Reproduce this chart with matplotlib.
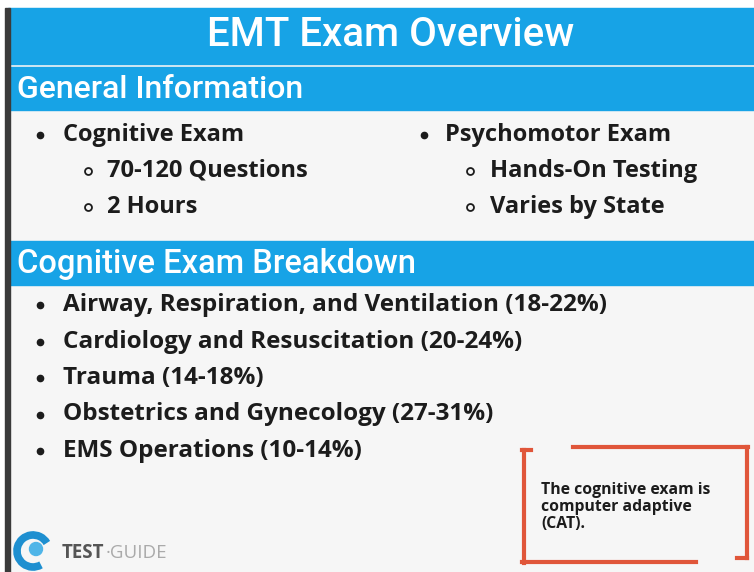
import matplotlib.pyplot as plt
from matplotlib.patches import Rectangle, Circle, Arc

# Content
title = "EMT Exam Overview"
section1 = "General Information"
section2 = "Cognitive Exam Breakdown"
left_head = "Cognitive Exam"
left_items = ["70-120 Questions", "2 Hours"]
right_head = "Psychomotor Exam"
right_items = ["Hands-On Testing", "Varies by State"]
breakdown = ["Airway, Respiration, and Ventilation (18-22%)",
             "Cardiology and Resuscitation (20-24%)",
             "Trauma (14-18%)",
             "Obstetrics and Gynecology (27-31%)",
             "EMS Operations (10-14%)"]
note = "The cognitive exam is\ncomputer adaptive\n(CAT)."

blue = '#17a3e6'
bg = '#f6f6f6'
ink = '#1c1c1c'
red = '#e0563a'
head_font = ['Roboto', 'DejaVu Sans']
body_font = ['Open Sans', 'DejaVu Sans']

fig = plt.figure(figsize=(7.54, 5.72), dpi=100)
ax = fig.add_axes([0, 0, 1, 1])
ax.set_xlim(0, 754)
ax.set_ylim(572, 0)
ax.axis('off')

# background and bands
ax.add_patch(Rectangle((0, 0), 754, 572, color='white'))
ax.add_patch(Rectangle((8, 8), 746, 564, color=bg))
ax.add_patch(Rectangle((8, 8), 746, 56, color=blue))
ax.add_patch(Rectangle((8, 67), 746, 43, color=blue))
ax.add_patch(Rectangle((8, 241), 746, 44, color=blue))
ax.add_patch(Rectangle((5, 8), 5, 564, color='#3a3a3a'))

ax.text(391, 35, title, color='white', fontsize=29, fontweight='medium',
        family=head_font, ha='center', va='center')
ax.text(17, 89, section1, color='white', fontsize=23, fontweight='medium',
        family=head_font, ha='left', va='center')
ax.text(17, 264, section2, color='white', fontsize=23.5, fontweight='medium',
        family=head_font, ha='left', va='center')

# general info columns
def column(x_bullet, x_text, x_sub, x_subtext, head, items):
    ax.plot(x_bullet, 135, 'o', color=ink, ms=4.5)
    ax.text(x_text, 135, head, color=ink, fontsize=17, fontweight='bold',
            family=body_font, ha='left', va='center')
    for i, item in enumerate(items):
        y = 171 + i * 36
        ax.plot(x_sub, y, 'o', mfc='none', mec=ink, ms=5, mew=1.3)
        ax.text(x_subtext, y, item, color=ink, fontsize=17, fontweight='bold',
                family=body_font, ha='left', va='center')

column(40, 63, 88, 107, left_head, left_items)
column(424, 445, 470, 490, right_head, right_items)

# breakdown list
for i, item in enumerate(breakdown):
    y = 305 + i * 36.5
    ax.plot(40, y, 'o', color=ink, ms=4.5)
    ax.text(63, y, item, color=ink, fontsize=17.5, fontweight='bold',
            family=body_font, ha='left', va='center')

# red note frame
lw = 3
ax.plot([524, 524], [450, 563], color=red, lw=lw)
ax.plot([522, 531], [450, 450], color=red, lw=lw)
ax.plot([573, 748], [447, 447], color=red, lw=lw)
ax.plot([747, 747], [447, 558], color=red, lw=lw)
ax.plot([737, 747], [558, 558], color=red, lw=lw)
ax.plot([522, 696], [562, 562], color=red, lw=lw)
ax.text(541, 507, note, color=ink, fontsize=11.3, fontweight='bold',
        family=body_font, ha='left', va='center', linespacing=1.12)

# logo
ax.add_patch(Arc((33, 551), 32, 32, theta1=60, theta2=330, color='#1e8fd0', lw=5.5))
ax.add_patch(Circle((36, 549), 6.5, color='#4fb5e8'))
t = ax.text(62, 553, "TEST", color='#555555', fontsize=13.5, fontweight='bold',
            family=body_font, ha='left', va='center')
fig.canvas.draw()
bb = t.get_window_extent().transformed(ax.transData.inverted())
ax.text(bb.x1 + 1, 553, "\u00b7GUIDE", color='#aaaaaa', fontsize=13.5,
        family=body_font, ha='left', va='center')

fig.savefig('out.png', dpi=100)
